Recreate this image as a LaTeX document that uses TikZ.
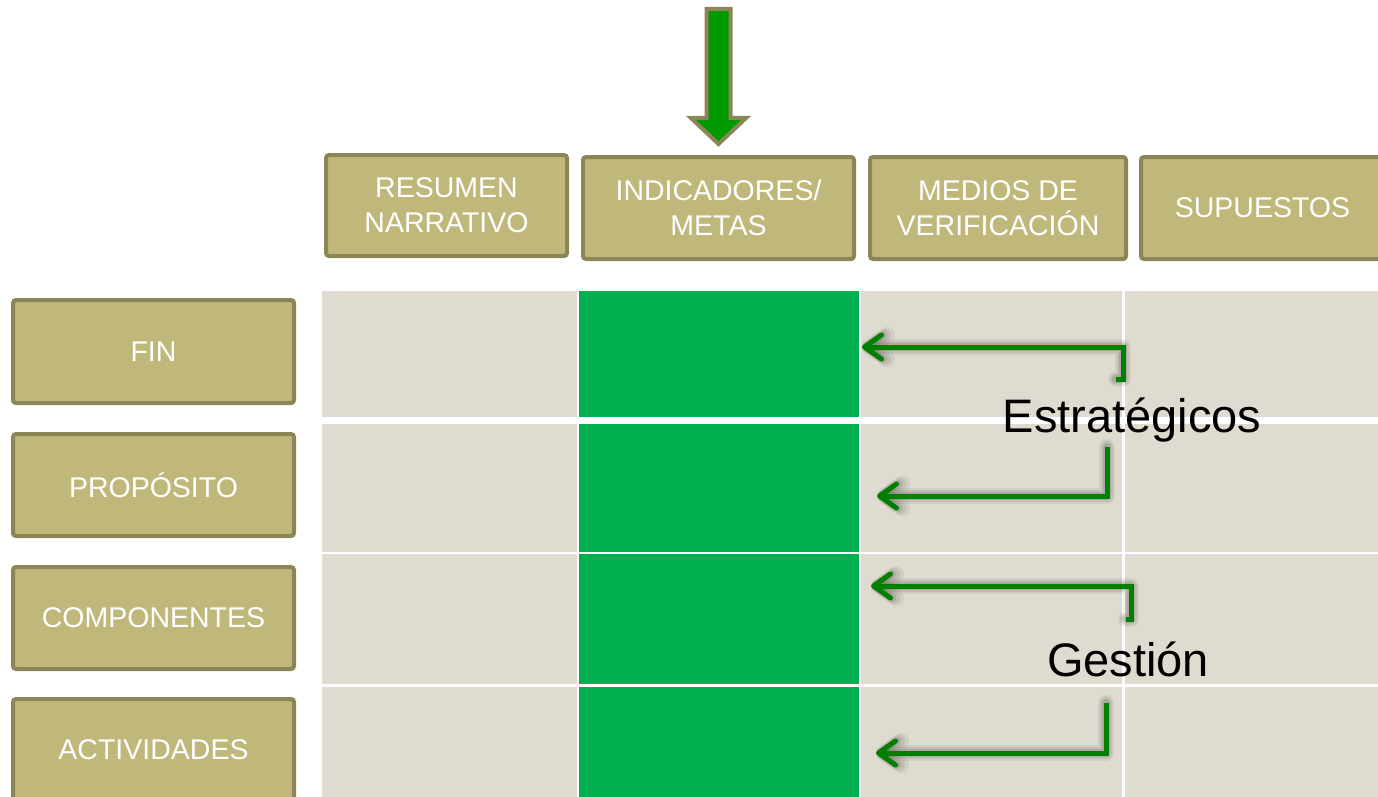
\documentclass[tikz,border=0pt]{standalone}
\usepackage{fontspec}
\setmainfont{Liberation Sans}
\usetikzlibrary{arrows.meta}
\definecolor{olivefill}{HTML}{BFB87A}
\definecolor{olivedraw}{HTML}{8C8558}
\definecolor{cellbg}{HTML}{E0DBD0}
\definecolor{cellgreen}{HTML}{00B050}
\definecolor{arrowgreen}{HTML}{008000}
\definecolor{topgreen}{HTML}{009900}
\begin{document}
\begin{tikzpicture}[x=1pt,y=-1pt,
  hbox/.style={draw=olivedraw, fill=olivefill, line width=4pt, rounded corners=3pt,
    text=white, font=\fontsize{28.5}{35}\selectfont, align=center, inner sep=0pt},
  cell/.style={fill=cellbg, inner sep=0pt, outer sep=0pt},
  gcell/.style={fill=cellgreen, inner sep=0pt, outer sep=0pt},
  conn/.style={draw=arrowgreen, line width=5pt, line join=miter,
    -{Straight Barb[length=17pt,width=24pt,line cap=round,line join=round]}},
  shade/.style={draw=black, line join=round, line cap=round,
    -{Straight Barb[length=17pt,width=24pt,line cap=round,line join=round]}},
  lbl/.style={font=\fontsize{47}{56}\selectfont, anchor=base, inner sep=0pt},
  toparrow/.style={draw=olivedraw, fill=topgreen, line width=4pt, line join=miter}
]
\useasboundingbox (0,0) rectangle (1378,797);
\fill[white] (0,0) rectangle (1378,797);

% grid cells
\foreach \r/\cy/\h in {1/354/126, 2/488/128, 3/619/130, 4/742/110}{
  \node[cell, minimum width=255pt, minimum height=\h pt] (r\r c1) at (449.5,\cy) {};
  \node[gcell, minimum width=280pt, minimum height=\h pt] (r\r c2) at (719,\cy) {};
  \node[cell, minimum width=261pt, minimum height=\h pt] (r\r c3) at (991.5,\cy) {};
  \node[cell, minimum width=253pt, minimum height=\h pt] (r\r c4) at (1251.5,\cy) {};
}

% header boxes
\node[hbox, minimum width=241pt, minimum height=101pt] (h1) at (446.5,205.5) {RESUMEN\\NARRATIVO};
\node[hbox, minimum width=271pt, minimum height=102pt] (h2) at (718.5,208) {INDICADORES/\\METAS};
\node[hbox, minimum width=256pt, minimum height=102pt] (h3) at (998,208) {MEDIOS DE\\VERIFICACIÓN};
\node[hbox, minimum width=243pt, minimum height=102pt] (h4) at (1262.5,208) {SUPUESTOS};

% row boxes
\node[hbox, minimum width=281pt, minimum height=103pt] (l1) at (153.5,351.5) {FIN};
\node[hbox, minimum width=281pt, minimum height=102pt] (l2) at (153.5,485) {PROPÓSITO};
\node[hbox, minimum width=281pt, minimum height=102pt] (l3) at (153.5,618) {COMPONENTES};
\node[hbox, minimum width=281pt, minimum height=102pt] (l4) at (153.5,750) {ACTIVIDADES};

% top arrow
\draw[toparrow] (706.5,9) -- (730.5,9) -- (730.5,118) -- (746,118) -- (718.5,144)
  -- (691,118) -- (706.5,118) -- cycle;

% connector end points
\coordinate (a1s) at (1116,379); \coordinate (a1b) at (1123,347); \coordinate (a1e) at (862,347);
\coordinate (a2s) at (1107,447); \coordinate (a2e) at (877,496);
\coordinate (a3s) at (1126,619); \coordinate (a3b) at (1131,586); \coordinate (a3e) at (871,586);
\coordinate (a4s) at (1106,703); \coordinate (a4e) at (876,753);

% shadows
\foreach \w/\o in {16/0.06, 12/0.08, 8/0.11}{
  \begin{scope}[shift={(1,4)}, opacity=\o]
    \draw[shade, line width=\w pt] (a1s) -| (a1b) -- (a1e);
    \draw[shade, line width=\w pt] (a2s) |- (a2e);
    \draw[shade, line width=\w pt] (a3s) -| (a3b) -- (a3e);
    \draw[shade, line width=\w pt] (a4s) |- (a4e);
  \end{scope}
}

% connectors
\draw[conn] (a1s) -| (a1b) -- (a1e);
\draw[conn] (a2s) |- (a2e);
\draw[conn] (a3s) -| (a3b) -- (a3e);
\draw[conn] (a4s) |- (a4e);

% labels
\node[lbl] (est) at (1132,432) {Estratégicos};
\node[lbl] (ges) at (1128,676) {Gestión};
\end{tikzpicture}
\end{document}
